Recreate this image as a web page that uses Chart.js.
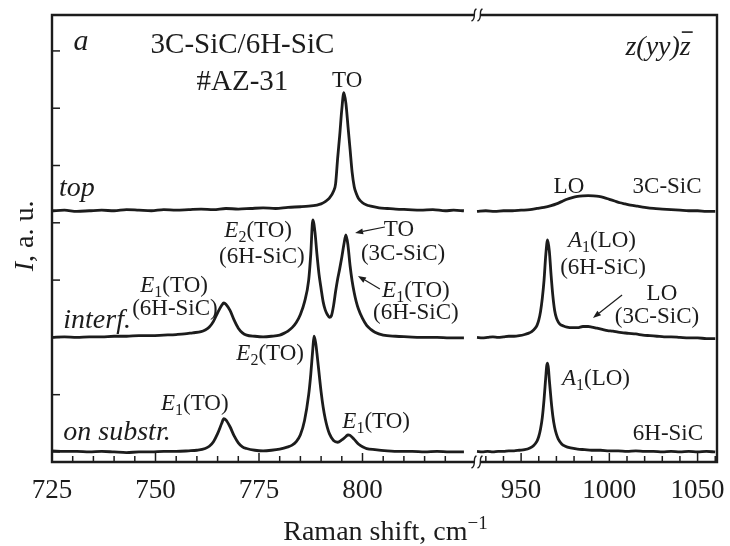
<!DOCTYPE html>
<html><head><meta charset="utf-8">
<script src="https://cdn.jsdelivr.net/npm/chart.js@4.4.0/dist/chart.umd.min.js"></script>
<style>html,body{margin:0;padding:0;background:#fff}#wrap{width:730px;height:546px;position:relative}</style>
</head><body><div id="wrap"><canvas id="c" width="730" height="546"></canvas></div>
<script>
// ---------------- DATA (Raman shift cm-1, intensity a.u.) ----------------
const topLeft = [[725,4.21],[728,4.22],[731,4.20],[734,4.21],[737,4.22],[740,4.21],[743,4.23],[746,4.22],[749,4.21],[752,4.23],[755,4.22],[758,4.23],[761,4.24],[764,4.23],[767,4.25],[770,4.24],[773,4.25],[776,4.26],[779,4.25],[782,4.27],[785,4.28],[787,4.29],[789,4.31],[790,4.33],[791,4.37],[792,4.43],[793,4.55],[793.5,4.68],[794,5.13],[794.5,5.53],[795,5.98],[795.5,6.27],[796,6.08],[796.5,5.68],[797,5.28],[797.5,4.88],[798,4.63],[798.5,4.51],[799,4.43],[800,4.35],[801,4.31],[802,4.29],[804,4.26],[806,4.25],[808,4.24],[811,4.23],[814,4.22],[817,4.23],[820,4.21],[822,4.22],[824.5,4.21]];
const topRight = [[925,4.20],[930,4.21],[935,4.20],[940,4.21],[945,4.21],[950,4.22],[955,4.23],[959,4.25],[963,4.27],[967,4.30],[970,4.33],[973,4.37],[976,4.41],[979,4.44],[982,4.46],[985,4.47],[988,4.475],[991,4.47],[994,4.46],[997,4.44],[1000,4.41],[1003,4.38],[1006,4.35],[1009,4.33],[1012,4.31],[1016,4.29],[1020,4.27],[1025,4.25],[1030,4.24],[1035,4.23],[1040,4.22],[1045,4.21],[1050,4.21],[1055,4.20],[1060,4.20]];
const midLeft = [[725,2.00],[728,2.01],[731,2.00],[734,2.01],[737,2.01],[740,2.02],[743,2.02],[746,2.03],[749,2.03],[752,2.04],[755,2.05],[757,2.06],[759,2.08],[761,2.10],[762,2.13],[763,2.18],[764,2.28],[765,2.43],[766,2.56],[766.5,2.60],[767,2.58],[768,2.47],[769,2.30],[770,2.16],[771,2.08],[772,2.04],[774,2.02],[776,2.01],[778,2.02],[780,2.04],[781,2.07],[782,2.11],[783,2.17],[784,2.26],[785,2.40],[786,2.62],[787,3.00],[787.5,3.45],[788,4.05],[788.5,3.85],[789,3.45],[789.5,3.10],[790,2.85],[790.5,2.62],[791,2.48],[791.5,2.40],[792,2.35],[792.5,2.38],[793,2.55],[793.5,2.80],[794,3.02],[794.5,3.20],[795,3.40],[795.5,3.62],[796,3.79],[796.5,3.60],[797,3.25],[797.5,2.98],[798,2.78],[798.5,2.62],[799,2.50],[800,2.33],[801,2.21],[802,2.14],[803,2.09],[805,2.04],[808,2.02],[811,2.01],[814,2.00],[818,2.00],[821,1.99],[824.5,1.99]];
const midRight = [[925,2.00],[928,1.99],[931,2.00],[934,2.01],[937,2.00],[940,2.01],[943,2.02],[946,2.02],[949,2.03],[952,2.05],[954,2.07],[956,2.10],[958,2.16],[959,2.21],[960,2.30],[961,2.45],[962,2.68],[963,3.00],[964,3.45],[965,3.70],[966,3.50],[967,3.08],[968,2.72],[969,2.47],[970,2.34],[971,2.27],[972,2.23],[974,2.20],[976,2.18],[979,2.17],[982,2.17],[985,2.19],[988,2.19],[990,2.18],[993,2.16],[996,2.14],[999,2.12],[1002,2.11],[1005,2.09],[1008,2.08],[1011,2.07],[1015,2.06],[1019,2.04],[1023,2.03],[1027,2.02],[1031,2.01],[1035,2.01],[1040,2.00],[1045,1.99],[1050,1.99],[1055,1.98],[1060,1.98]];
const botLeft = [[725,0.02],[728,0.01],[731,0.01],[734,0.00],[737,0.01],[740,0.00],[743,-0.01],[746,0.00],[749,0.00],[752,0.01],[755,0.01],[758,0.02],[760,0.03],[762,0.06],[763,0.10],[764,0.18],[765,0.32],[766,0.50],[766.5,0.58],[767,0.56],[768,0.44],[769,0.28],[770,0.16],[771,0.09],[772,0.06],[774,0.03],[776,0.02],[778,0.03],[780,0.05],[782,0.09],[783,0.12],[784,0.18],[785,0.30],[786,0.55],[787,1.00],[787.5,1.35],[788,1.80],[788.3,2.02],[788.7,1.90],[789,1.72],[789.5,1.38],[790,1.05],[790.5,0.78],[791,0.58],[791.5,0.43],[792,0.32],[793,0.20],[794,0.17],[795,0.21],[796,0.27],[796.5,0.30],[797,0.29],[798,0.22],[799,0.14],[800,0.09],[801,0.06],[803,0.04],[806,0.02],[809,0.01],[812,0.01],[815,0.00],[818,0.01],[821,0.00],[824.5,0.00]];
const botRight = [[925,0.01],[928,0.00],[931,0.01],[934,0.00],[937,0.01],[940,0.01],[943,0.02],[946,0.02],[949,0.03],[952,0.04],[955,0.07],[957,0.11],[959,0.19],[960,0.27],[961,0.40],[962,0.60],[963,0.92],[964,1.32],[964.5,1.50],[965,1.55],[965.5,1.45],[966,1.25],[967,0.90],[968,0.62],[969,0.43],[970,0.31],[971,0.23],[973,0.14],[975,0.10],[978,0.07],[982,0.05],[986,0.04],[990,0.03],[995,0.03],[1000,0.02],[1005,0.02],[1010,0.01],[1015,0.02],[1020,0.01],[1025,0.01],[1030,0.00],[1035,0.01],[1040,0.00],[1045,0.01],[1050,0.00],[1055,0.01],[1060,0.00]];

const xTickVals = [725,730,735,740,745,750,755,760,765,770,775,780,785,790,795,800,805,810,815,820,930,940,950,960,970,980,990,1000,1010,1020,1030,1040,1050,1060];
const xLabelVals = [725,750,775,800,950,1000,1050];
const yTickVals = [0,1,2,3,4,5,6,7];

// ---------------- LAYOUT ----------------
const SEG = {leftMin:725, leftMax:825, rightMin:925, rightMax:1061, leftFrac:414/665, rightFrac:425/665};
const FAM = "'Liberation Serif','Times New Roman',serif";
const INK = '#1c1c1c';
const LBL = 23, BIG = 28;

class BrokenLinearScale extends Chart.LinearScale {
  dec(v){
    if (v <= SEG.leftMax) return (v-SEG.leftMin)/(SEG.leftMax-SEG.leftMin)*SEG.leftFrac;
    if (v >= SEG.rightMin) return SEG.rightFrac + (v-SEG.rightMin)/(SEG.rightMax-SEG.rightMin)*(1-SEG.rightFrac);
    return SEG.leftFrac + (v-SEG.leftMax)/(SEG.rightMin-SEG.leftMax)*(SEG.rightFrac-SEG.leftFrac);
  }
  getPixelForValue(v){ return (v===null||v===undefined) ? NaN : this.getPixelForDecimal(this.dec(v)); }
  getValueForPixel(p){
    const d = this.getDecimalForPixel(p);
    if (d <= SEG.leftFrac) return SEG.leftMin + d/SEG.leftFrac*(SEG.leftMax-SEG.leftMin);
    if (d >= SEG.rightFrac) return SEG.rightMin + (d-SEG.rightFrac)/(1-SEG.rightFrac)*(SEG.rightMax-SEG.rightMin);
    return SEG.leftMax + (d-SEG.leftFrac)/(SEG.rightFrac-SEG.leftFrac)*(SEG.rightMin-SEG.leftMax);
  }
}
BrokenLinearScale.id = 'brokenLinear';
BrokenLinearScale.defaults = Chart.LinearScale.defaults;
Chart.register(BrokenLinearScale);

const E1 = [['E','i'],['1','sub'],['(TO)','']];
const E2 = [['E','i'],['2','sub'],['(TO)','']];
const A1 = [['A','i'],['1','sub'],['(LO)','']];
const annotations = [
 {p:[['a','i']], x:732.0, y:7.016, s:30},
 {p:[['3C-SiC/6H-SiC','']], x:771.0, y:6.958, s:29},
 {p:[['#AZ-31','']], x:771.0, y:6.316, s:29},
 {p:[['TO','']], x:796.3, y:6.37, s:LBL},
 {p:[['z(yy)','i'],['z','iol']], x:1027.6, y:6.928, s:BIG},
 {p:[['top','i']], x:731.0, y:4.468, s:BIG},
 {p:[['LO','']], x:977.1, y:4.52, s:LBL},
 {p:[['3C-SiC','']], x:1032.7, y:4.52, s:LBL},
 {p:E2, x:774.8, y:3.752, s:LBL},
 {p:[['(6H-SiC)','']], x:775.7, y:3.298, s:LBL},
 {p:E1, x:754.5, y:2.792, s:LBL},
 {p:[['(6H-SiC)','']], x:754.7, y:2.391, s:LBL},
 {p:[['interf.','i']], x:735.9, y:2.164, s:BIG},
 {p:[['TO','']], x:808.8, y:3.77, s:LBL},
 {p:[['(3C-SiC)','']], x:809.8, y:3.351, s:LBL},
 {p:E1, x:812.9, y:2.705, s:LBL},
 {p:[['(6H-SiC)','']], x:812.9, y:2.321, s:LBL},
 {p:A1, x:995.8, y:3.578, s:LBL},
 {p:[['(6H-SiC)','']], x:996.4, y:3.106, s:LBL},
 {p:[['LO','']], x:1029.8, y:2.653, s:LBL},
 {p:[['(3C-SiC)','']], x:1027.0, y:2.251, s:LBL},
 {p:E2, x:777.7, y:1.606, s:LBL},
 {p:E1, x:759.5, y:0.733, s:LBL},
 {p:[['on substr.','i']], x:740.7, y:0.209, s:BIG},
 {p:E1, x:803.3, y:0.419, s:LBL},
 {p:A1, x:992.4, y:1.169, s:LBL},
 {p:[['6H-SiC','']], x:1033.2, y:0.209, s:LBL}
];
const arrows = [
 {from:[805.4,3.927], to:[798.2,3.822]},
 {from:[804.2,2.845], to:[798.9,3.072]},
 {from:[1007.2,2.740], to:[990.7,2.339]}
];

function drawRich(ctx, parts, x, y, size, align){
  const ms = []; let total = 0;
  for (const [t,s] of parts){
    const small = (s==='sub'||s==='sup');
    const fs = small ? Math.round(size*0.68) : size;
    const font = (s.indexOf('i')===0 ? 'italic ' : '') + fs + 'px ' + FAM;
    ctx.font = font; const w = ctx.measureText(t).width;
    ms.push({t,s,font,w}); total += w;
  }
  let cx = align==='center' ? x-total/2 : (align==='right' ? x-total : x);
  ctx.textAlign='left'; ctx.textBaseline='alphabetic';
  for (const m of ms){
    let dy = 0;
    if (m.s==='sub') dy = size*0.22;
    if (m.s==='sup') dy = -size*0.4;
    ctx.font = m.font; ctx.fillText(m.t, cx, y+dy);
    if (m.s==='iol'){
      ctx.save(); ctx.lineWidth=1.6; ctx.beginPath();
      ctx.moveTo(cx+2, y-size*0.82); ctx.lineTo(cx+m.w+2, y-size*0.82); ctx.stroke(); ctx.restore();
    }
    cx += m.w;
  }
}

const decorPlugin = {
  id:'decor',
  afterDatasetsDraw(chart){
    const {ctx, chartArea:a, scales:{x, y}} = chart;
    ctx.save();
    ctx.strokeStyle = INK; ctx.fillStyle = INK;
    // frame
    ctx.lineWidth = 2.4; ctx.lineCap='square';
    ctx.beginPath();
    ctx.moveTo(a.left, a.top); ctx.lineTo(a.right, a.top); ctx.lineTo(a.right, a.bottom);
    ctx.lineTo(a.left, a.bottom); ctx.closePath(); ctx.stroke();
    // inward ticks
    ctx.lineWidth = 1.5; ctx.lineCap='butt';
    for (const t of x.ticks){
      const px = x.getPixelForValue(t.value);
      const len = xLabelVals.includes(t.value) ? 9 : 6;
      ctx.beginPath(); ctx.moveTo(px, a.bottom); ctx.lineTo(px, a.bottom-len); ctx.stroke();
    }
    for (const t of y.ticks){
      const py = y.getPixelForValue(t.value);
      ctx.beginPath(); ctx.moveTo(a.left, py); ctx.lineTo(a.left+8, py); ctx.stroke();
    }
    // axis break marks
    const bx = x.getPixelForValue(SEG.rightMin);
    for (const by of [a.top, a.bottom]){
      ctx.fillStyle = '#fff'; ctx.fillRect(bx-3, by-2.5, 6, 5); ctx.fillStyle = INK;
      ctx.lineWidth = 1.4;
      for (const dx of [-3, 3]){
        ctx.beginPath();
        ctx.moveTo(bx+dx+2.5, by-6);
        ctx.bezierCurveTo(bx+dx-2, by-5, bx+dx+3, by+4, bx+dx-2.5, by+6);
        ctx.stroke();
      }
    }
    // arrows
    ctx.lineWidth = 1.2;
    for (const ar of arrows){
      const x0 = x.getPixelForValue(ar.from[0]), y0 = y.getPixelForValue(ar.from[1]);
      const x1 = x.getPixelForValue(ar.to[0]), y1 = y.getPixelForValue(ar.to[1]);
      const ang = Math.atan2(y1-y0, x1-x0), hl = 8, hw = 3;
      const bxp = x1 - hl*Math.cos(ang), byp = y1 - hl*Math.sin(ang);
      ctx.beginPath(); ctx.moveTo(x0,y0); ctx.lineTo(bxp,byp); ctx.stroke();
      ctx.beginPath(); ctx.moveTo(x1,y1);
      ctx.lineTo(bxp + hw*Math.sin(ang), byp - hw*Math.cos(ang));
      ctx.lineTo(bxp - hw*Math.sin(ang), byp + hw*Math.cos(ang));
      ctx.closePath(); ctx.fill();
    }
    // annotations
    for (const an of annotations){
      drawRich(ctx, an.p, x.getPixelForValue(an.x), y.getPixelForValue(an.y), an.s, 'center');
    }
    // axis titles
    drawRich(ctx, [['Raman shift, cm',''],['\u22121','sup']], (a.left+a.right)/2 + 1, 540, BIG, 'center');
    ctx.save();
    ctx.translate(a.left-19, y.getPixelForValue(3.77));
    ctx.rotate(-Math.PI/2);
    drawRich(ctx, [['I','i'],[', a. u.','']], 0, 0, BIG, 'center');
    ctx.restore();
    ctx.restore();
  }
};

const mk = (d) => ({data: d.map(p=>({x:p[0], y:p[1]})), borderColor: INK, borderWidth: 2.8, pointRadius: 0, fill: false, tension: 0, cubicInterpolationMode: 'monotone'});

new Chart(document.getElementById('c'), {
  type: 'line',
  data: { datasets: [mk(topLeft), mk(topRight), mk(midLeft), mk(midRight), mk(botLeft), mk(botRight)] },
  options: {
    responsive: false, animation: false, events: [],
    layout: { padding: {top: 15, right: 13, left: 0, bottom: 0} },
    plugins: { legend: {display:false}, tooltip: {enabled:false} },
    scales: {
      x: {
        type: 'brokenLinear', min: SEG.leftMin, max: SEG.rightMax,
        grid: {display:false, drawTicks:false}, border: {display:false},
        afterBuildTicks: s => { s.ticks = xTickVals.map(v => ({value: v})); },
        afterFit: s => { s.height = 84; },
        ticks: { autoSkip:false, maxRotation:0, minRotation:0, padding: 13, color: INK,
          font: {family: FAM, size: 27},
          callback: v => xLabelVals.includes(v) ? String(v) : '' }
      },
      y: {
        type: 'linear', min: -0.175, max: 7.627,
        grid: {display:false, drawTicks:false}, border: {display:false},
        afterBuildTicks: s => { s.ticks = yTickVals.map(v => ({value: v})); },
        afterFit: s => { s.width = 52; },
        ticks: { display: false }
      }
    }
  },
  plugins: [decorPlugin]
});
</script>
</body></html>
